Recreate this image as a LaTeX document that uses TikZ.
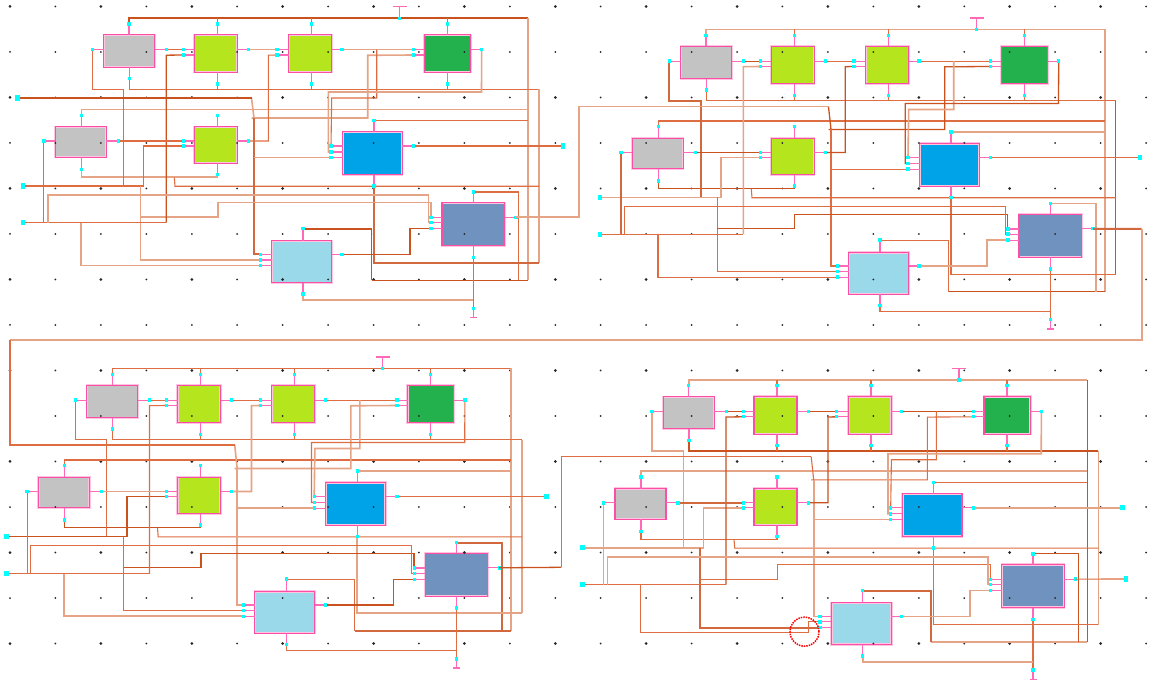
\documentclass[tikz,border=0pt]{standalone}
\definecolor{pinkb}{HTML}{FA4FA5}
\definecolor{pinkh}{HTML}{FFC4E0}
\definecolor{stubc}{HTML}{FF69B8}
\definecolor{wthin}{HTML}{DE6E42}
\definecolor{wlite}{HTML}{E6A486}
\definecolor{wdark}{HTML}{C9521F}
\definecolor{wfat}{HTML}{D2683E}
\definecolor{lime1}{HTML}{B5E61D}
\definecolor{green1}{HTML}{22B14C}
\definecolor{blue1}{HTML}{00A2E8}
\definecolor{steel1}{HTML}{7092BE}
\definecolor{lblue1}{HTML}{99D9EA}
\definecolor{gray1}{HTML}{C3C3C3}
\definecolor{pinc}{HTML}{00FFFF}
\newif\ifpcross
\tikzset{
 blk/.style={draw=pinkh,line width=2.2,inner sep=0,outer sep=0,postaction={draw=pinkb,line width=1.1}},
 pinb/.style={inner sep=0,outer sep=0,minimum width=3.4,minimum height=3.4},
 iop/.style={inner sep=0,outer sep=0,minimum width=4.8,minimum height=5.2},
 stub/.style={draw=stubc,line width=1.1},
 wt/.style={draw=wthin,line width=1.1},
 wl/.style={draw=wlite,line width=1.6},
 wk/.style={draw=wdark,line width=1.3},
 wx/.style={draw=wfat,line width=2},
 w01/.style=wt,w02/.style=wt,w03/.style=wt,w04/.style=wt,w05/.style=wt,w06/.style=wt,w07/.style=wt,
 w08/.style=wt,w09/.style=wt,w10/.style=wt,w11/.style=wt,w12/.style=wt,w13/.style=wt,w14/.style=wt,
 w15/.style=wt,w16/.style=wt,w17/.style=wt,w18/.style=wt,w19/.style=wt,w20/.style=wt,w21/.style=wt,w22/.style=wt,
 w23/.style=wt,w24/.style=wt,w25/.style=wt,w26/.style=wt,w27/.style=wt,w28/.style=wt,w29/.style=wt,
 w30/.style=wt,w31/.style=wt,w32/.style=wt,w33/.style=wt,w34/.style=wt,w35/.style=wt
}
\makeatletter
\gdef\stubs{}
\gdef\paints{}
\newcommand\pinv[3]{\node[pinb] (\P-#1) at (#2) {};
 \g@addto@macro\stubs{\draw[stub] (\P-#1.center) -- (\P-#1.center |- \P-#3);}%
 \g@addto@macro\paints{\fill[pinc] (\P-#1.south west) rectangle (\P-#1.north east);}}
\newcommand\pinh[3]{\node[pinb] (\P-#1) at (#2) {};
 \g@addto@macro\stubs{\draw[stub] (\P-#1.center) -- (\P-#1.center -| \P-#3);}%
 \g@addto@macro\paints{\fill[pinc] (\P-#1.south west) rectangle (\P-#1.north east);}}
\newcommand\pinio[3][iop]{\node[#1] (\P-#2) at (#3) {};
 \g@addto@macro\paints{\fill[pinc] (\P-#2.south west) rectangle (\P-#2.north east);}}
\makeatother
\newcommand\bx[6]{\node[blk,fill=#2,minimum width=#5,minimum height=#6] (\P-#1) at (#3,#4) {};}
\newcommand\wi[2]{\draw[#1] #2;}
\newcommand\panelboxes[3]{%
\def\P{#1}%
\begin{scope}[shift={(#2,#3)}]
\bx{g1}{gray1}{129.1}{51}{51}{32.3}
\bx{l1}{lime1}{215.8}{53.5}{43}{37.6}
\bx{l2}{lime1}{310.2}{53.5}{43}{37.6}
\bx{d}{green1}{447.5}{53.5}{46.4}{37.6}
\bx{h}{gray1}{80.8}{142}{51}{30.6}
\bx{l3}{lime1}{215.8}{145}{43}{36.6}
\bx{b}{blue1}{372.5}{153.3}{59.6}{42.7}
\bx{s}{steel1}{473.3}{224.2}{62.7}{43}
\bx{c}{lblue1}{301.7}{261.8}{60}{41.7}
\end{scope}}
\newcommand\panelwires[4]{%
\def\P{#1}%
\gdef\stubs{}\gdef\paints{}%
\begin{scope}[shift={(#2,#3)}]
\coordinate (\P-iv) at (251.5,#4);
\coordinate (\P-vr) at (527.7,18);
\coordinate (\P-vb) at (527.7,280.3);
\coordinate (\P-vc) at (371.7,280.3);
\coordinate (\P-vt) at (371.7,229);
\coordinate (\P-gr) at (538.7,89.3);
\coordinate (\P-gb) at (538.7,262.7);
\coordinate (\P-gc) at (374,262.7);
\coordinate (\P-mid) at (254,118);
\coordinate (\P-r2) at (539,186.3);
\coordinate (\P-n2) at (140.3,186);
\coordinate (\P-n3) at (81,222.7);
\pinio{i2}{23,186}\pinio{i3}{23,222.7}\pinio{o}{563,146}
\pinv{g1t}{129,24}{g1.north}\pinv{g1b}{129.3,78.5}{g1.south}\pinh{g1l}{92.3,49.7}{g1.west}\pinh{g1r}{166.5,49.7}{g1.east}
\pinv{l1t}{217.3,24}{l1.north}\pinv{l1b}{217.3,84}{l1.south}\pinh{l1a}{183.5,49.7}{l1.west}\pinh{l1c}{183.5,55}{l1.west}\pinh{l1r}{248.5,49.7}{l1.east}
\pinv{l2t}{311.3,24}{l2.north}\pinv{l2b}{311.3,84}{l2.south}\pinh{l2a}{277,49.7}{l2.west}\pinh{l2c}{277,55}{l2.west}\pinh{l2r}{342,49.7}{l2.east}
\pinv{dt}{447.3,24}{d.north}\pinv{db}{447.3,84}{d.south}\pinh{da}{413.7,49.7}{d.west}\pinh{dc}{413.7,55}{d.west}\pinh{dr}{481.7,49.7}{d.east}
\pinv{ht}{81.3,115.3}{h.north}\pinv{hb}{81.3,169.5}{h.south}\pinh{hl}{43.9,141}{h.west}\pinh{hr}{118.3,141}{h.east}
\pinv{l3t}{217.3,115.3}{l3.north}\pinv{l3b}{217.3,174.5}{l3.south}\pinh{l3a}{183.5,141}{l3.west}\pinh{l3c}{183.5,146}{l3.west}\pinh{l3r}{248.5,141}{l3.east}
\pinv{bt}{374,120.7}{b.north}\pinv{bb}{374,186}{b.south}\pinh{ba}{331,146}{b.west}\pinh{bc}{331,152}{b.west}\pinh{be}{331,157.6}{b.west}\pinh{br}{413.7,146}{b.east}
\pinv{st}{473.3,192}{s.north}\pinv{sb}{473.3,257.5}{s.south}\pinh{sa}{431,217.5}{s.west}\pinh{sc}{431,222.7}{s.west}\pinh{se}{431,228.7}{s.west}\pinh{sr}{516,217.3}{s.east}
\pinv{ct}{303,228.5}{c.north}\pinv{cb}{303,294}{c.south}\pinh{ca}{260.3,254.5}{c.west}\pinh{cc}{260.3,260}{c.west}\pinh{ce}{260.3,265.7}{c.west}\pinh{cr}{342,254.5}{c.east}
\pinio[pinb]{tp}{399.3,18.3}\pinio[pinb]{gp}{473.3,308.3}
\coordinate (\P-tb) at (399.3,6.5);
\coordinate (\P-ge) at (473.3,317.5);
\stubs
\wi{stub,line width=1.3}{(\P-tp.center) -- (\P-tb) (392.5,6.5) -- (406.5,6.5)}
\wi{stub}{(\P-gp.center) -- (\P-ge) (470,317.5) -- (477,317.5)}
% supply rail
\wi{w01}{(\P-g1t.center) -- (129,18) -- (\P-vr)}
\wi{wt}{(\P-l1t.center) -- (\P-l1t.center |- \P-vr) (\P-l2t.center) -- (\P-l2t.center |- \P-vr) (\P-dt.center) -- (\P-dt.center |- \P-vr)}
\wi{w02}{(\P-vr) -- (\P-vb)}
\wi{w03}{(\P-vb) -- (\P-vc)}
\wi{w04}{(\P-vc) -- (\P-vt) -- (303,229) -- (\P-ct.center)}
\wi{w05}{(\P-st.center) -- (518.7,192) -- (518.7,280.3)}
\wi{w06}{(\P-ht.center) -- (81.3,109.5) -- (527.7,109.5)}
\wi{w07}{(\P-bt.center) -- (527.7,120.7)}
% second rail
\wi{w08}{(\P-g1b.center) -- (129.3,89.3) -- (\P-gr)}
\wi{wt}{(\P-l1b.center) -- (\P-l1b.center |- \P-gr) (\P-l2b.center) -- (\P-l2b.center |- \P-gr) (\P-db.center) -- (\P-db.center |- \P-gr)}
\wi{w09}{(\P-gr) -- (\P-gb)}
\wi{w10}{(\P-gb) -- (\P-gc) -- (\P-bb.center)}
\wi{w11}{(\P-hb.center) -- (81.3,177.3) -- (217.3,177.3) -- (\P-l3b.center)}
\wi{w12}{(174.3,177.3) -- (175,186.3) -- (\P-r2)}
% signal wires
\wi{w13}{(\P-iv) -- (\P-mid) (251.5,118) -- (367.7,118) -- (367.7,55.3) -- (\P-dc.center)}
\wi{w14}{(\P-mid) -- (254,254.5) -- (\P-ca.center)}
\wi{w15}{(\P-be.center) -- (254,157.6)}
\wi{w16}{(\P-g1l.center) -- (92.3,89.3) -- (123.7,89.3) -- (123.7,186)}
\wi{w17}{(\P-i2.center) -- (143.7,186) -- (143.7,146) -- (\P-l3c.center)}
\ifpcross
 \wi{w18}{(\P-n2) -- (140.3,265.7) -- (\P-ce.center)}
 \wi{w24}{(\P-n3) -- (81,270.5) -- (249,270.5) -- (249,260) -- (\P-cc.center)}
\else
 \wi{w18}{(\P-n2) -- (140.3,260) -- (\P-cc.center)}
 \wi{w24}{(\P-n3) -- (81,265.7) -- (\P-ce.center)}
\fi
\wi{w20}{(140.3,217.3) -- (217.7,217.3) -- (217.7,202.7) -- (430.7,202.7) -- (430.7,217.5) -- (\P-sa.center)}
\wi{w21}{(\P-i3.center) -- (166.3,222.7)}
\wi{w19}{(166.3,222.7) -- (166.3,55.2) -- (\P-l1c.center)}
\wi{w22}{(\P-hl.center) -- (43.9,222.7)}
\wi{w23}{(47.7,222.7) -- (47.7,195) -- (428.3,195) -- (428.3,222.7) -- (\P-sc.center)}
\wi{w25}{(\P-g1r.center) -- (\P-l1a.center)}
\wi{w26}{(\P-hr.center) -- (\P-l3a.center)}
\wi{w27}{(\P-l1r.center) -- (\P-l2a.center)}
\wi{w28}{(\P-l3r.center) -- (268.3,141) -- (268.3,55.2) -- (\P-l2c.center)}
\wi{w29}{(\P-l2r.center) -- (\P-da.center)}
\wi{w30}{(376.7,49.7) -- (376.7,98) -- (331.7,98) -- (\P-ba.center)}
\wi{w31}{(\P-dr.center) -- (481.5,92) -- (328.3,92) -- (328.3,152) -- (\P-bc.center)}
\wi{w32}{(\P-br.center) -- (\P-o.center)}
\wi{w33}{(\P-cr.center) -- (410,254.5) -- (410,228.7) -- (\P-se.center)}
\wi{w34}{(\P-sb.center) -- (\P-gp.center)}
\wi{w35}{(\P-cb.center) -- (303,300) -- (473.3,300)}
\paints
\end{scope}}
\begin{document}
\begin{tikzpicture}[x=1pt,y=-1pt]
\useasboundingbox (0,0) rectangle (1149,684);
\fill[white] (0,0) rectangle (1149,684);
\panelboxes{A}{0}{0}
\panelboxes{B}{577}{11.5}
\panelboxes{C}{-16.8}{350.5}
\panelboxes{D}{559.7}{361.8}
% grid of dots
\foreach \i in {0,...,25}{\foreach \j in {0,...,14}{
 \pgfmathsetmacro\rr{(mod(\i,2)==0 && mod(\j,2)==0) ? 1.5 : 1.0}
 \fill[black!85] ({10+\i*45.44},{6.5+\j*45.5}) circle[radius=\rr];
}}
\begin{scope}
\tikzset{w01/.style=wk,w02/.style=wl,w03/.style=wk,w04/.style=wk,w06/.style=wl,w09/.style=wl,w10/.style=wx,w11/.style=wl,w13/.style=wl,w14/.style=wx,w15/.style=wl,w18/.style=wl,w19/.style=wk,w20/.style=wl,w23/.style=wl,w24/.style=wl,w27/.style=wl,w29/.style=wl,w31/.style=wl,w33/.style=wk,w35/.style=wl}
\panelwires{A}{0}{0}{98}
\end{scope}
\begin{scope}
\tikzset{w01/.style=wl,w02/.style=wl,w03/.style=wk,w05/.style=wl,w07/.style=wl,w09/.style=wk,w11/.style=wk,w13/.style=wk,w16/.style=wx,w17/.style=wl,w19/.style=wl,w20/.style=wk,w22/.style=wx,w25/.style=wk,w26/.style=wk,w28/.style=wk,w30/.style=wl,w31/.style=wk,w33/.style=wl}
\panelwires{B}{577}{11.5}{95.2}
\end{scope}
\begin{scope}
\tikzset{w02/.style=wl,w03/.style=wx,w05/.style=wx,w07/.style=wl,w09/.style=wl,w10/.style=wl,w11/.style=wk,w13/.style=wl,w14/.style=wl,w15/.style=wl,w17/.style=wk,w20/.style=wk,w24/.style=wl,w26/.style=wl,w28/.style=wl,w30/.style=wl,w33/.style=wk}
\panelwires{C}{-16.8}{350.5}{94.5}
\end{scope}
\begin{scope}
\pcrosstrue
\tikzset{w01/.style=wl,w02/.style=wk,w03/.style=wl,w04/.style=wx,w05/.style=wk,w06/.style=wl,w08/.style=wk,w09/.style=wl,w14/.style=wl,w15/.style=wl,w16/.style=wl,w17/.style=wl,w18/.style=wx,w19/.style=wk,w22/.style=wl,w23/.style=wl,w25/.style=wk,w26/.style=wx,w27/.style=wk,w28/.style=wk,w29/.style=wk,w31/.style=wl,w32/.style=wl,w33/.style=wl,w35/.style=wl}
\panelwires{D}{559.7}{361.8}{94.9}
\end{scope}
% inter-panel links and extra terminals
\node[iop] (inA) at (17.5,98) {};
\node[iop] (outD) at (1126,579) {};
\wi{wk}{(inA.center) -- (A-iv)}
\wi{wl}{(A-sr.center) -- (578.7,217.3) -- (578.7,106.7) -- (B-iv)}
\wi{wx}{(B-sr.center) -- (1141.7,229)}
\wi{wl}{(1141.7,229) -- (1141.7,340) -- (10,340)}
\wi{wt}{(10,340) -- (10,445) -- (C-iv)}
\wi{wk}{(C-sr.center) -- (561.3,567.3)}
\wi{wt}{(561.3,567.3) -- (561.3,456.7) -- (D-iv)}
\wi{wt}{(D-sr.center) -- (outD.center)}
\fill[pinc] (inA.south west) rectangle (inA.north east);
\fill[pinc] (outD.south west) rectangle (outD.north east);
% red marker
\node[draw=red,densely dotted,line width=1.5,circle,minimum size=29,inner sep=0] (mark) at (804.5,631.7) {};
\end{tikzpicture}
\end{document}
